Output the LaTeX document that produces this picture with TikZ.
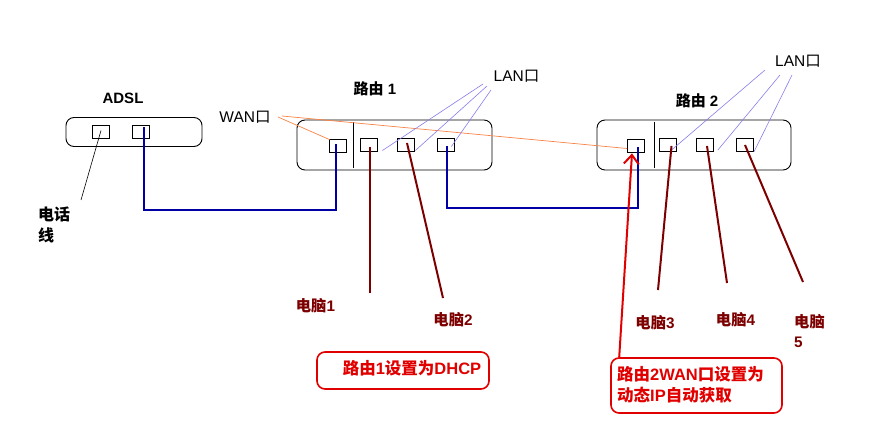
\documentclass[tikz,border=0pt]{standalone}
\usepackage{fontspec}
\setmainfont{Liberation Sans}
\newfontfamily\cjk{Noto Sans CJK SC}
\usetikzlibrary{arrows.meta}
\definecolor{wireblue}{RGB}{0,0,165}
\definecolor{pcred}{RGB}{125,0,0}
\definecolor{wanorange}{RGB}{250,130,70}
\definecolor{lanpurple}{RGB}{135,125,235}
\definecolor{notered}{RGB}{225,0,0}
\begin{document}
\begin{tikzpicture}[x=1pt,y=-1pt,
  dev/.style={draw,line width=0.9pt,rounded corners=8pt,inner sep=0pt},
  port/.style={draw,line width=0.8pt,minimum width=17pt,minimum height=13pt,inner sep=0pt},
  lbl/.style={inner sep=0pt,font=\fontsize{15.5}{18}\selectfont},
  blbl/.style={lbl,font=\fontsize{15}{18}\selectfont\bfseries},
  pclbl/.style={inner sep=0pt,text=pcred,font=\fontsize{15.3}{20}\selectfont\bfseries,align=left},
  bluewire/.style={draw=wireblue,line width=2pt},
  pcwire/.style={draw=pcred,line width=2pt},
  wanline/.style={draw=wanorange,line width=0.7pt},
  lanline/.style={draw=lanpurple,line width=0.6pt},
  notebox/.style={draw=notered,line width=1.6pt,rounded corners=8pt,inner sep=0pt},
  notetext/.style={inner sep=0pt,text=notered,font=\fontsize{16.5}{21}\selectfont\bfseries,align=left},
  ]
\useasboundingbox (0,0) rectangle (878,430);

% ADSL modem
\node[dev,minimum width=136pt,minimum height=29pt] (adsl) at (134,132) {};
\node[blbl] (adsltxt) at (123,98) {ADSL};
\node[port] (adslp1) at (101,131.5) {};
\node[port] (adslp2) at (141,131.5) {};

% Router 1
\node[dev,minimum width=195pt,minimum height=50pt] (r1) at (394.5,145) {};
\coordinate (r1d1) at (353,122);
\coordinate (r1d2) at (353,168);
\draw[line width=0.9pt] (r1d1) -- (r1d2);
\node[blbl] (r1txt) at (375,89) {{\cjk 路由} 1};
\node[port] (r1wan) at (337.5,145.5) {};
\node[port] (r1l1) at (368.5,144.5) {};
\node[port] (r1l2) at (405.5,144.5) {};
\node[port] (r1l3) at (445.5,144.5) {};

% Router 2
\node[dev,minimum width=194pt,minimum height=50pt] (r2) at (694,145) {};
\coordinate (r2d1) at (654,122);
\coordinate (r2d2) at (654,168);
\draw[line width=0.9pt] (r2d1) -- (r2d2);
\node[blbl] (r2txt) at (697,101) {{\cjk 路由} 2};
\node[port] (r2wan) at (636,145.5) {};
\node[port] (r2l1) at (667.5,145) {};
\node[port] (r2l2) at (705,145) {};
\node[port] (r2l3) at (745,145) {};

% labels
\node[lbl] (wantxt) at (245,117) {WAN{\cjk 口}};
\node[lbl] (lan1txt) at (516.5,76) {LAN{\cjk 口}};
\node[lbl] (lan2txt) at (798,61) {LAN{\cjk 口}};
\node[align=left,inner sep=0pt,anchor=north west,font=\fontsize{16}{21}\selectfont\bfseries\cjk] (teltxt) at (38,207) {电话\\线};

% phone line
\coordinate (telend) at (81,200);
\draw[line width=0.6pt] ([yshift=1pt]adslp1.center) -- (telend);

% blue wires
\coordinate (b1) at (240,210);
\draw[bluewire] ([xshift=3pt,yshift=4pt]adslp2.center) |- (b1) -| ([xshift=-1.5pt,yshift=1pt]r1wan.center);
\coordinate (b2) at (540,208);
\draw[bluewire] ([xshift=1.5pt,yshift=-2pt]r1l3.center) |- (b2) -| ([xshift=2pt,yshift=-2pt]r2wan.center);

% WAN pointer lines
\coordinate (wanA) at (278,117);
\coordinate (wanB) at (282,116);
\draw[wanline] (wanA) -- ([xshift=1pt,yshift=-1pt]r1wan.north west);
\draw[wanline] (wanB) -- ([yshift=-3pt]r2wan.west);

% LAN pointer lines, router 1
\coordinate (la1) at (483,84);
\coordinate (la2) at (487,86);
\coordinate (la3) at (491,90);
\draw[lanline] (la1) -- ([xshift=5pt,yshift=-6pt]r1l1.east);
\draw[lanline] (la2) -- ([xshift=1pt,yshift=-6pt]r1l2.east);
\draw[lanline] (la3) -- ([xshift=-3pt,yshift=-2pt]r1l3.east);

% LAN pointer lines, router 2
\coordinate (lb1) at (765,70);
\coordinate (lb2) at (780,75);
\coordinate (lb3) at (792,75);
\draw[lanline] (lb1) -- ([xshift=-6pt,yshift=-6pt]r2l1.east);
\draw[lanline] (lb2) -- ([xshift=4pt,yshift=-5pt]r2l2.east);
\draw[lanline] (lb3) -- ([xshift=0pt,yshift=-7pt]r2l3.east);

% PC cables
\coordinate (pc1end) at (370,293);
\coordinate (pc2end) at (443,298);
\coordinate (pc3end) at (658,290);
\coordinate (pc4end) at (727,283);
\coordinate (pc5end) at (803,282);
\draw[pcwire] ([xshift=1.5pt,yshift=-2.5pt]r1l1.center) -- (pc1end);
\draw[pcwire] ([xshift=1.5pt,yshift=1.5pt]r1l2.center) -- (pc2end);
\draw[pcwire] ([xshift=4pt,yshift=-1pt]r2l1.center) -- (pc3end);
\draw[pcwire] ([xshift=2pt,yshift=-1pt]r2l2.center) -- (pc4end);
\draw[pcwire] ([xshift=0pt,yshift=0pt]r2l3.center) -- (pc5end);

\node[pclbl] (pc1) at (315.5,306) {{\cjk 电脑}1};
\node[pclbl] (pc2) at (453,320) {{\cjk 电脑}2};
\node[pclbl] (pc3) at (655,323) {{\cjk 电脑}3};
\node[pclbl] (pc4) at (735.5,320) {{\cjk 电脑}4};
\node[pclbl,anchor=north west] (pc5) at (794,314) {{\cjk 电脑}\\5};

% notes
\node[notebox,minimum width=172pt,minimum height=37pt] (note1) at (403,370.5) {};
\node[notetext] (note1txt) at (412,368) {{\cjk 路由}1{\cjk 设置为}DHCP};
\node[notebox,minimum width=171pt,minimum height=55pt] (note2) at (696.5,385.5) {};
\node[notetext,anchor=west] (note2txt) at (617,385) {{\cjk 路由}2WAN{\cjk 口设置为}\\{\cjk 动态}IP{\cjk 自动获取}};
\draw[draw=notered,line width=2pt,-{Straight Barb[length=9pt,width=15pt,line width=2pt]}]
  ([xshift=9pt]note2.north west) -- ([xshift=-4pt,yshift=-1pt]r2wan.south);
\end{tikzpicture}
\end{document}
